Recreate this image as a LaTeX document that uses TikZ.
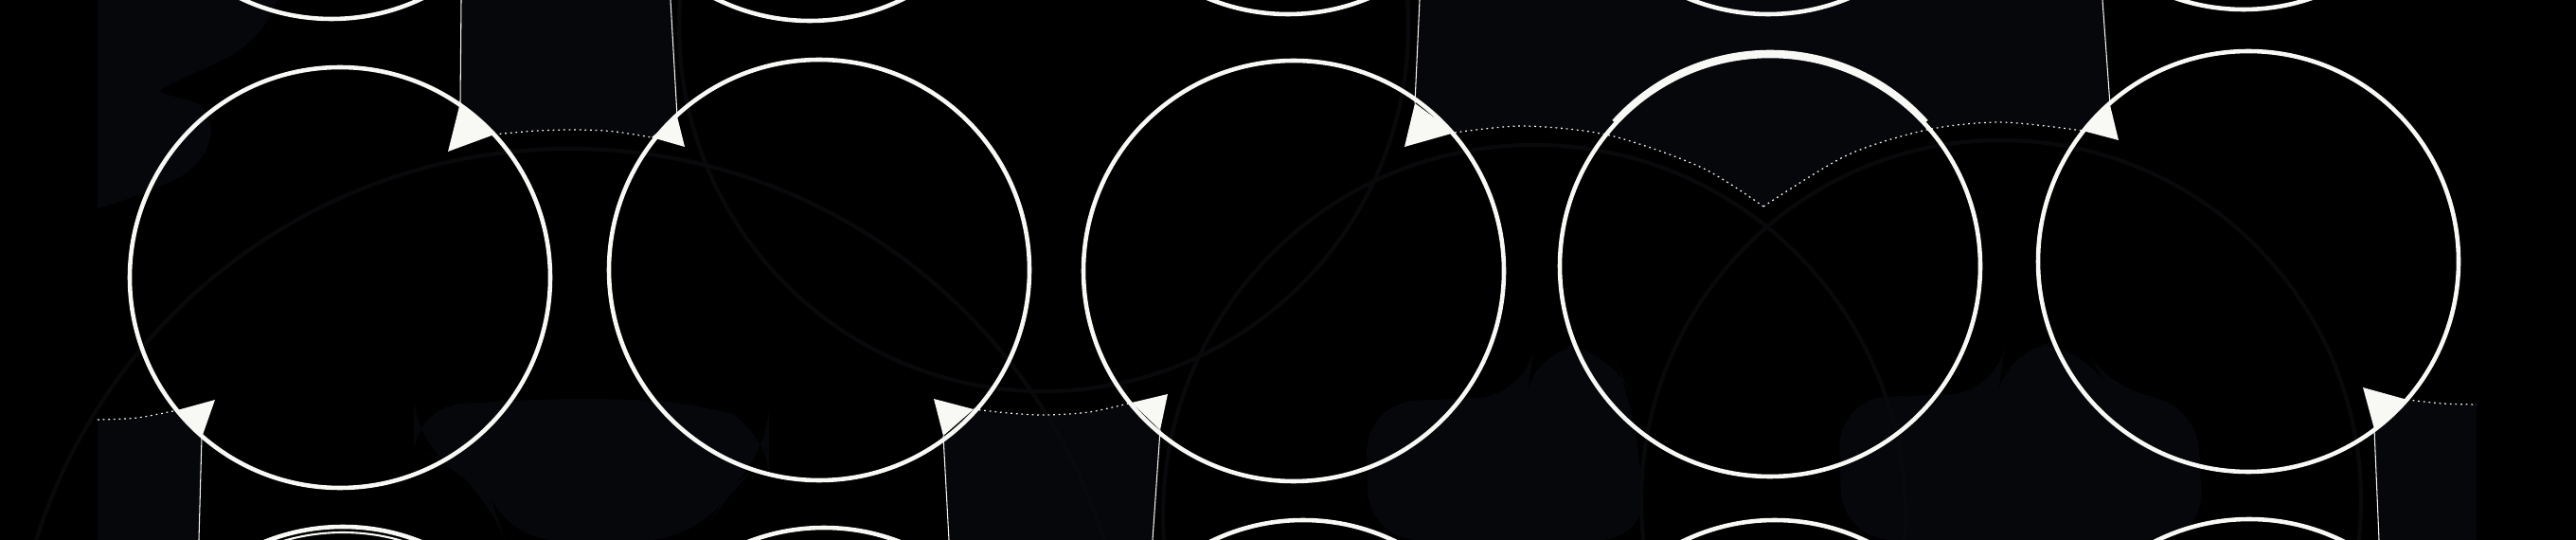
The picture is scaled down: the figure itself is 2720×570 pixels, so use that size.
\documentclass[tikz,border=0pt]{standalone}
\usepackage{tikz}
\usetikzlibrary{calc}
\definecolor{navy}{RGB}{6,7,10}
\definecolor{rim}{RGB}{9,9,12}
\definecolor{chalk}{RGB}{248,248,245}

\begin{document}
\begin{tikzpicture}[x=0.01cm, y=-0.01cm,
        ring/.style={draw=chalk, line width=1.3pt},
        tip/.style={fill=chalk},
        hair/.style={draw=chalk, line width=0.3pt},
        dotarc/.style={draw=chalk, line width=0.35pt, dash pattern=on 0.5pt off 1.1pt},
        channel/.style={fill=navy},
        faint/.style={draw=rim, line width=1.2pt}]
        % Frame
        \fill[black] (0,0) rectangle (2720,570);
        \useasboundingbox (0,0) rectangle (2720,570);
        \clip (0,0) rectangle (2720,570);

        % Centres of the rings in the middle row
        \coordinate (C1) at (359,293);
        \coordinate (C2) at (865,285);
        \coordinate (C3) at (1366,286);
        \coordinate (C4) at (1869,281);
        \coordinate (C5) at (2374,276);
        \coordinate (V) at (1862,218);

        % Arrow points: P meets the hair line, Q meets the dotted arc, T inside
        \coordinate (P1a) at (486,108);  \coordinate (Q1a) at (522,142);  \coordinate (T1a) at (473,160);
        \coordinate (P1b) at (213,462);  \coordinate (Q1b) at (187,433);  \coordinate (T1b) at (227,422);
        \coordinate (P2a) at (715,123);  \coordinate (Q2a) at (688,145);  \coordinate (T2a) at (723,155);
        \coordinate (P2b) at (996,460);  \coordinate (Q2b) at (1028,432); \coordinate (T2b) at (986,421);
        \coordinate (P3a) at (1494,109); \coordinate (Q3a) at (1536,140); \coordinate (T3a) at (1483,155);
        \coordinate (P3b) at (1225,454); \coordinate (Q3b) at (1195,425); \coordinate (T3b) at (1233,416);
        \coordinate (P5a) at (2228,111); \coordinate (Q5a) at (2199,138); \coordinate (T5a) at (2237,148);
        \coordinate (P5b) at (2507,453); \coordinate (Q5b) at (2542,422); \coordinate (T5b) at (2495,409);

        % Dark channels
        \fill[channel] (487,0) -- (P1a) -- plot[smooth] coordinates {(Q1a) (560,138.5) (602,137) (645,138.5) (Q2a)} -- (P2a) -- (708,0) -- cycle;
        \fill[channel] (1499,0) -- (P3a) -- plot[smooth] coordinates {(Q3a) (1610,133) (1700,143) (1797,177) (V)}
            -- plot[smooth] coordinates {(V) (1950,164) (2035,137) (2113,129) (Q5a)} -- (P5a) -- (2220,0) -- cycle;
        \fill[channel] (103,570) -- (103,443) -- plot[smooth] coordinates {(103,443) (145,441) (Q1b)} -- (P1b) -- (210,570) -- cycle;
        \fill[channel] (1002,570) -- (P2b) -- plot[smooth] coordinates {(Q2b) (1065,436) (1102,438) (1150,435) (Q3b)} -- (P3b) -- (1217,570) -- cycle;
        \fill[channel] (2512,570) -- (P5b) -- plot[smooth] coordinates {(Q5b) (2580,426) (2615,427)} -- (2615,570) -- cycle;

        % Faint patches
        \fill[channel] (103,0) -- plot[smooth] coordinates {(103,220) (143,207) (193,185) (217,160) (223,133) (210,110) (170,97) (193,83) (247,57) (277,30) (293,0)} -- cycle;
        \fill[channel, rounded corners=15] (437,428) -- (610,420) -- (745,425) -- (812,452) -- (812,480) -- (772,515) -- (737,570) -- (533,570) -- (518,525) -- (480,495) -- (437,470) -- cycle;
        \fill[channel, rounded corners=15] (1442,425) -- (1612,418) -- (1620,365) -- (1700,365) -- (1722,418) -- (1742,570) -- (1445,570) -- cycle;
        \fill[channel, rounded corners=15] (1941,420) -- (2110,415) -- (2117,365) -- (2200,362) -- (2230,418) -- (2318,420) -- (2328,570) -- (1945,570) -- cycle;

        % Faint rims of the large circles
        \draw[faint] (602,748) circle[radius=591];
        \draw[faint] (1620,545) circle[radius=392];
        \draw[faint] (2113,528) circle[radius=380];
        \draw[faint] (1102,28) circle[radius=385];

        % Dotted arcs
        \draw[dotarc] plot[smooth] coordinates {(103,443) (145,441) (Q1b)};
        \draw[dotarc] plot[smooth] coordinates {(Q1a) (560,138.5) (602,137) (645,138.5) (Q2a)};
        \draw[dotarc] plot[smooth] coordinates {(Q2b) (1065,436) (1102,438) (1150,435) (Q3b)};
        \draw[dotarc] plot[smooth] coordinates {(Q3a) (1610,133) (1700,143) (1797,177) (V)};
        \draw[dotarc] plot[smooth] coordinates {(V) (1950,164) (2035,137) (2113,129) (Q5a)};
        \draw[dotarc] plot[smooth] coordinates {(Q5b) (2580,426) (2615,427)};

        % Hair lines to the rows above and below
        \draw[hair] (P1a) -- (487,0);
        \draw[hair] (P2a) -- (708,0);
        \draw[hair] (P3a) -- (1499,0);
        \draw[hair] (P5a) -- (2220,0);
        \draw[hair] (P1b) -- (210,570);
        \draw[hair] (P2b) -- (1002,570);
        \draw[hair] (P3b) -- (1217,570);
        \draw[hair] (P5b) -- (2512,570);

        % Rings
        \foreach \c in {C1,C2,C3,C4,C5}
            \draw[ring] (\c) circle[radius=222];
        \draw[ring] ($(C4)+(0,-4)$) ++(-138:222) arc[start angle=-138, end angle=-42, radius=222];
        \foreach \x/\y in {350/-202, 855/-200, 1360/-207, 1867/-207, 2369/-212}
            \draw[ring] (\x,\y) circle[radius=222];
        \foreach \x/\y in {362/778, 870/779, 1376/771, 1874/771, 2375/770}
            \draw[ring] (\x,\y) circle[radius=222];
        \draw[ring, line width=0.6pt] (362,784) circle[radius=222];

        % Arrow heads
        \foreach \k in {1a,1b,2a,2b,3a,3b,5a,5b}
            \fill[tip] (P\k) -- (Q\k) -- (T\k) -- cycle;
    \end{tikzpicture}
\end{document}
